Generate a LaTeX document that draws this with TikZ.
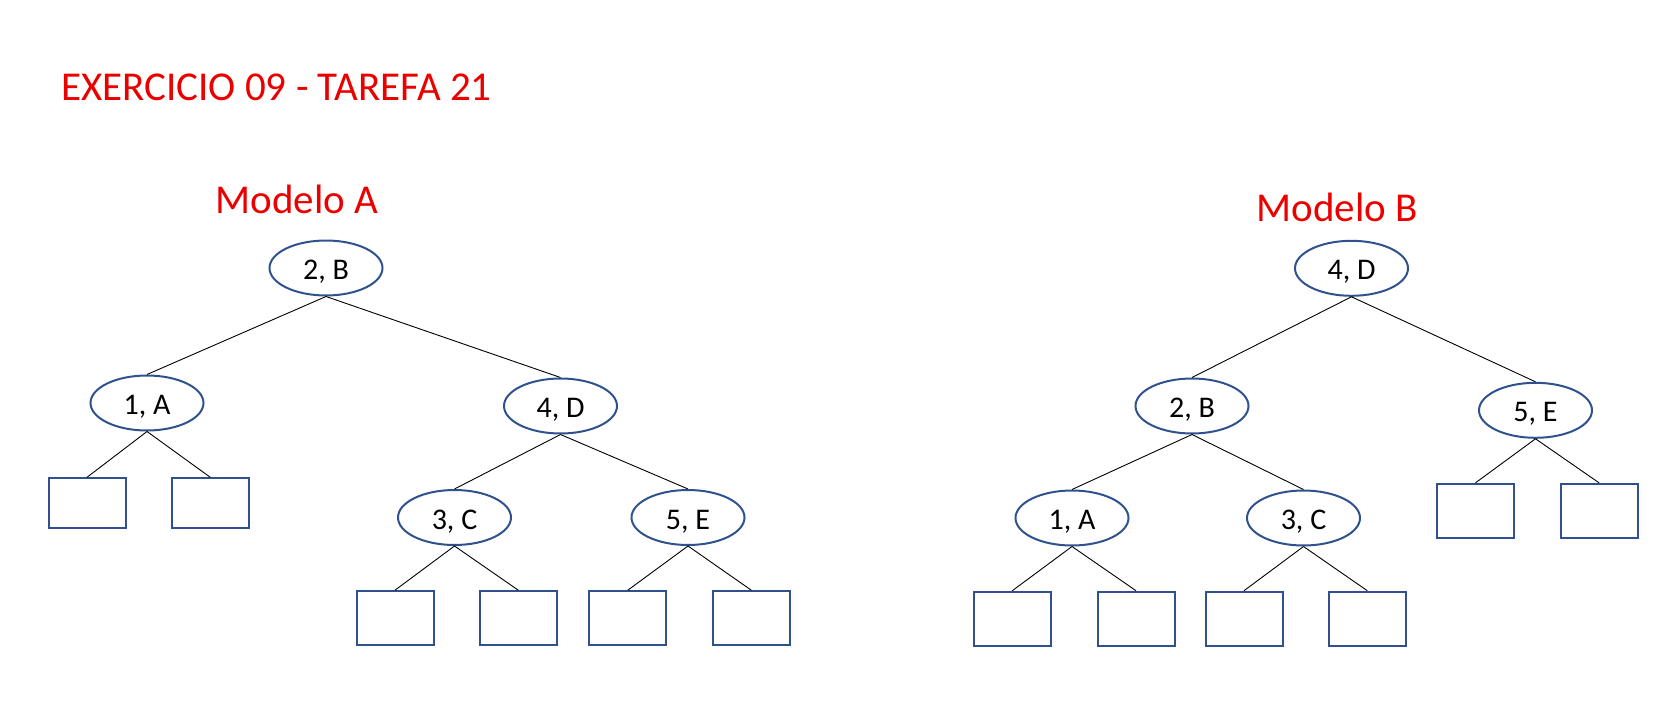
\documentclass[tikz,border=0pt]{standalone}
\usepackage{fontspec}
\setmainfont{Carlito}
\usetikzlibrary{shapes.geometric}
\definecolor{shapeblue}{RGB}{47,82,143}
\definecolor{titlered}{RGB}{235,0,0}
\begin{document}
\begin{tikzpicture}[x=1pt,y=-1pt,
  keynode/.style={ellipse, draw=shapeblue, line width=2pt, fill=white,
    minimum width=113pt, minimum height=55pt, inner sep=0pt,
    text height=23pt, text depth=0pt,
    font=\fontsize{30}{34}\selectfont},
  leafbox/.style={rectangle, draw=shapeblue, line width=2pt, fill=white,
    minimum width=77pt, minimum height=54pt, inner sep=0pt},
  edge/.style={draw=black, line width=0.9pt},
  heading/.style={text=titlered, font=\fontsize{41}{48}\selectfont, inner sep=0pt}]
\useasboundingbox (0,0) rectangle (1674,704);

% titles
\node[heading, anchor=base west] (title) at (61,100) {EXERCICIO 09 - TAREFA 21};
\node[heading, anchor=base] (tA) at (297,213) {Modelo A};
\node[heading, anchor=base] (tB) at (1337,221) {Modelo B};

% ---- Modelo A ----
\node[keynode] (a2) at (326,268) {2, B};
\node[keynode] (a1) at (147,403) {1, A};
\node[keynode] (a4) at (560.5,406) {4, D};
\node[keynode] (a3) at (454.5,517.5) {3, C};
\node[keynode] (a5) at (688,517.5) {5, E};
\node[leafbox, minimum height=50pt] (a1l) at (87,503.3) {};
\node[leafbox, minimum height=50pt] (a1r) at (210.3,503.3) {};
\node[leafbox] (a3l) at (395,618.2) {};
\node[leafbox] (a3r) at (518.3,618.2) {};
\node[leafbox] (a5l) at (627.8,618.2) {};
\node[leafbox] (a5r) at (751.3,618.2) {};

\draw[edge] (a2.south) -- (a1.north);
\draw[edge] (a2.south) -- (a4.north);
\draw[edge] (a1.south) -- (a1l.north);
\draw[edge] (a1.south) -- (a1r.north);
\draw[edge] (a4.south) -- (a3.north);
\draw[edge] (a4.south) -- (a5.north);
\draw[edge] (a3.south) -- (a3l.north);
\draw[edge] (a3.south) -- (a3r.north);
\draw[edge] (a5.south) -- (a5l.north);
\draw[edge] (a5.south) -- (a5r.north);

% ---- Modelo B ----
\node[keynode] (b4) at (1351.5,268.3) {4, D};
\node[keynode] (b2) at (1192,406) {2, B};
\node[keynode] (b5) at (1535.5,410.3) {5, E};
\node[keynode] (b1) at (1072,518) {1, A};
\node[keynode] (b3) at (1303.5,518) {3, C};
\node[leafbox] (b1l) at (1012.3,618.7) {};
\node[leafbox] (b1r) at (1136,618.7) {};
\node[leafbox] (b3l) at (1244,618.7) {};
\node[leafbox] (b3r) at (1367.3,618.7) {};
\node[leafbox] (b5l) at (1475.5,510.8) {};
\node[leafbox] (b5r) at (1599,510.8) {};

\draw[edge] (b4.south) -- (b2.north);
\draw[edge] (b4.south) -- (b5.north);
\draw[edge] (b2.south) -- (b1.north);
\draw[edge] (b2.south) -- (b3.north);
\draw[edge] (b1.south) -- (b1l.north);
\draw[edge] (b1.south) -- (b1r.north);
\draw[edge] (b3.south) -- (b3l.north);
\draw[edge] (b3.south) -- (b3r.north);
\draw[edge] (b5.south) -- (b5l.north);
\draw[edge] (b5.south) -- (b5r.north);
\end{tikzpicture}
\end{document}
